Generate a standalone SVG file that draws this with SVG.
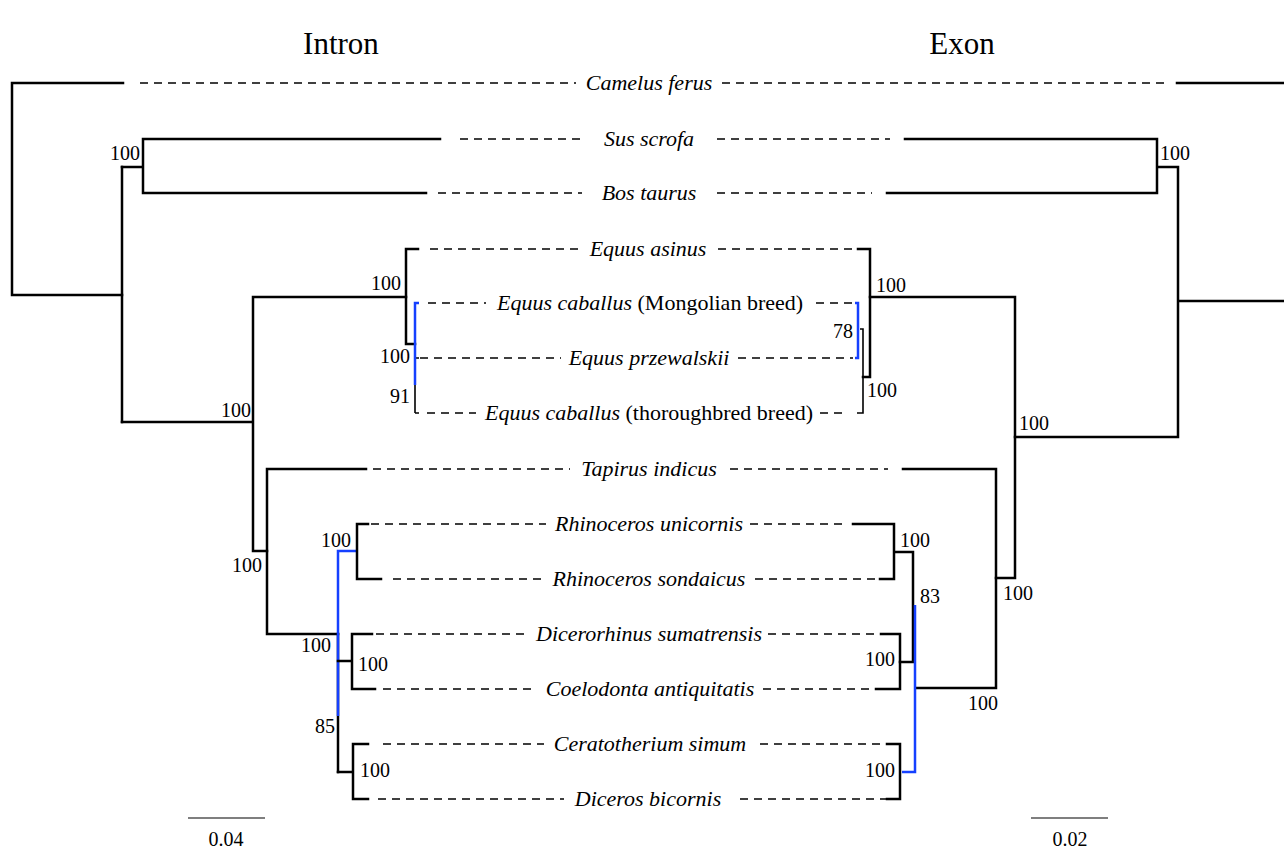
<svg xmlns="http://www.w3.org/2000/svg" width="1284" height="850" viewBox="0 0 1284 850">
<style>
.br{fill:none;stroke:#000;stroke-width:2.5;stroke-linecap:square}
.th{fill:none;stroke:#000;stroke-width:1.6}
.bl{fill:none;stroke:#1540ff;stroke-width:2.5}
.ds{fill:none;stroke:#000;stroke-width:1.5;stroke-dasharray:8 6}
.tx{font-family:"Liberation Serif","Times New Roman",serif;font-size:22px;font-style:italic;fill:#000;text-anchor:middle}
.rg{font-style:normal}
.nm{font-family:"Liberation Serif","Times New Roman",serif;font-size:20px;fill:#000}
.e{text-anchor:end}
.tt{font-family:"Liberation Serif","Times New Roman",serif;font-size:31px;fill:#000;text-anchor:middle}
.sc{fill:none;stroke:#000;stroke-width:1.2}
</style>
<rect width="1284" height="850" fill="#fff"/>
<text class="tt" x="341" y="54">Intron</text>
<text class="tt" x="962" y="54">Exon</text>

<g id="connectors">
<!-- Intron tree -->
<path class="br" d="M123 83H12V295H122"/>
<path class="br" d="M122 167V422"/>
<path class="br" d="M122 167H143M440 139H143V193H426"/>
<path class="br" d="M122 422H253M406 297H253V551H267"/>
<path class="br" d="M418 249H406V344H415"/>
<path class="th" d="M415 344V413M415 358H419M415 413H419"/>
<path class="bl" d="M419 303H415V385"/>
<path class="br" d="M366 469H267V634H338"/>
<path class="br" d="M338 634V772"/>
<path class="bl" d="M338 716V551H357"/>
<path class="br" d="M368 524H357V579H381"/>
<path class="br" d="M338 661H352M372 634H352V689H375"/>
<path class="br" d="M338 772H353M368 744H353V799H368"/>
<!-- Exon tree -->
<path class="br" d="M1177 83H1284"/>
<path class="br" d="M905 139H1157V193H887M1157 167H1178V437H1015M1178 301H1284"/>
<path class="br" d="M870 297H1015V578H996"/>
<path class="br" d="M858 249H870V377H863"/>
<path class="th" d="M860 329H863V413H857"/>
<path class="bl" d="M855 303H858V358H855"/>
<path class="br" d="M903 469H996V688H917"/>
<path class="br" d="M853 524H894V579H880M894 552H913V662H900"/>
<path class="br" d="M881 634H900V689H876"/>
<path class="br" d="M887 744H900V799H887"/>
<path class="bl" d="M915 605V772H902"/>
</g>

<g id="camelus">
<path class="ds" d="M140 83H576M722 83H1166"/>
<text class="tx" x="649" y="90">Camelus ferus</text>
</g>
<g id="sus">
<path class="ds" d="M460 139H582M717 139H890"/>
<text class="tx" x="649" y="146">Sus scrofa</text>
</g>
<g id="bos">
<path class="ds" d="M438 193H582M717 193H872"/>
<text class="tx" x="649" y="200">Bos taurus</text>
</g>
<g id="asinus">
<path class="ds" d="M430 249H578M718 249H853"/>
<text class="tx" x="648" y="256">Equus asinus</text>
</g>
<g id="caballus-mongolian">
<path class="ds" d="M428 303H486M816 303H853"/>
<text class="tx" x="650" y="310">Equus caballus <tspan class="rg">(Mongolian breed)</tspan></text>
</g>
<g id="przewalskii">
<path class="ds" d="M420 358H561M738 358H853"/>
<text class="tx" x="649" y="365">Equus przewalskii</text>
</g>
<g id="caballus-thoroughbred">
<path class="ds" d="M427 413H476M820 413H848"/>
<text class="tx" x="649" y="420">Equus caballus <tspan class="rg">(thoroughbred breed)</tspan></text>
</g>
<g id="tapirus">
<path class="ds" d="M373 469H570M730 469H888"/>
<text class="tx" x="649" y="476">Tapirus indicus</text>
</g>
<g id="rh-unicornis">
<path class="ds" d="M371 524H546M750 524H842"/>
<text class="tx" x="649" y="531">Rhinoceros unicornis</text>
</g>
<g id="rh-sondaicus">
<path class="ds" d="M393 579H547M755 579H875"/>
<text class="tx" x="649" y="586">Rhinoceros sondaicus</text>
</g>
<g id="dicerorhinus">
<path class="ds" d="M376 634H529M768 634H880"/>
<text class="tx" x="649" y="641">Dicerorhinus sumatrensis</text>
</g>
<g id="coelodonta">
<path class="ds" d="M383 689H537M763 689H876"/>
<text class="tx" x="650" y="696">Coelodonta antiquitatis</text>
</g>
<g id="ceratotherium">
<path class="ds" d="M383 744H544M760 744H887"/>
<text class="tx" x="650" y="751">Ceratotherium simum</text>
</g>
<g id="diceros">
<path class="ds" d="M378 799H564M740 799H887"/>
<text class="tx" x="648" y="806">Diceros bicornis</text>
</g>

<g id="support">
<text class="nm e" x="140" y="160">100</text>
<text class="nm e" x="401" y="290">100</text>
<text class="nm e" x="410" y="363">100</text>
<text class="nm e" x="410" y="403">91</text>
<text class="nm e" x="251" y="417">100</text>
<text class="nm e" x="262" y="572">100</text>
<text class="nm e" x="351" y="547">100</text>
<text class="nm e" x="331" y="652">100</text>
<text class="nm" x="358" y="671">100</text>
<text class="nm e" x="335" y="733">85</text>
<text class="nm" x="360" y="777">100</text>
<text class="nm" x="1160" y="160">100</text>
<text class="nm" x="876" y="292">100</text>
<text class="nm e" x="853" y="338">78</text>
<text class="nm" x="867" y="397">100</text>
<text class="nm" x="1019" y="430">100</text>
<text class="nm" x="1003" y="600">100</text>
<text class="nm" x="900" y="547">100</text>
<text class="nm" x="920" y="603">83</text>
<text class="nm e" x="895" y="666">100</text>
<text class="nm" x="968" y="710">100</text>
<text class="nm e" x="895" y="777">100</text>
</g>

<g id="scale-intron">
<path class="sc" d="M188 818H265"/>
<text class="nm" x="226" y="846" text-anchor="middle">0.04</text>
</g>
<g id="scale-exon">
<path class="sc" d="M1031 818H1108"/>
<text class="nm" x="1070" y="846" text-anchor="middle">0.02</text>
</g>
</svg>
